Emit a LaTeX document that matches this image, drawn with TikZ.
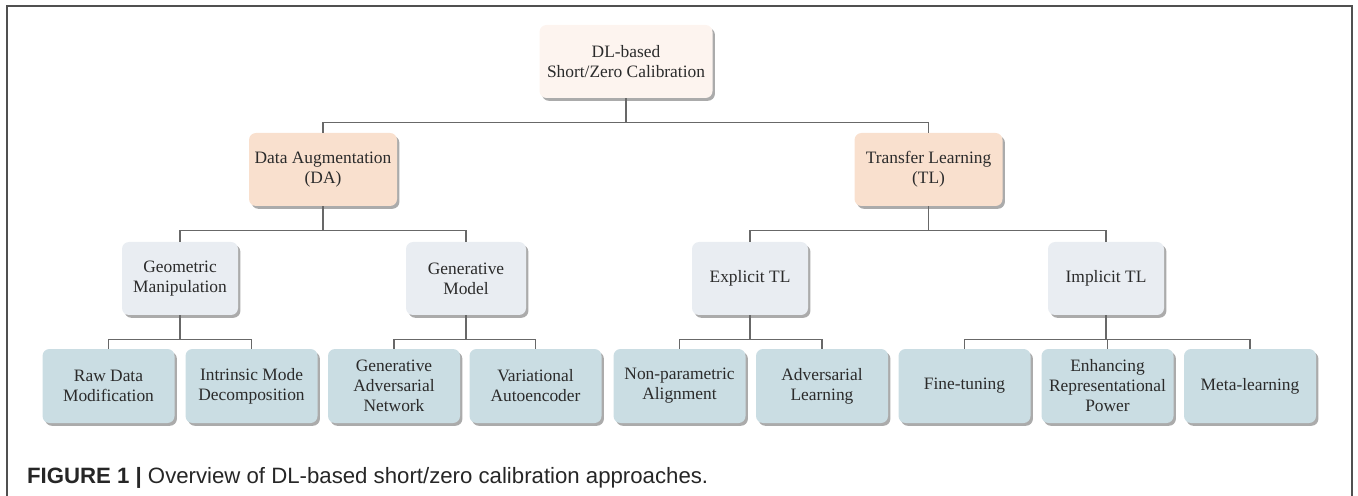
\documentclass[tikz,border=0pt]{standalone}
\usepackage{fontspec}
\setmainfont{Liberation Serif}
\newfontfamily\capfont{Liberation Sans}
\usepackage{xcolor}
\usepackage{tikz}
\usetikzlibrary{shadows}
\definecolor{rootfill}{HTML}{FDF4EF}
\definecolor{peachfill}{HTML}{F9E0CE}
\definecolor{midfill}{HTML}{E9EDF2}
\definecolor{leaffill}{HTML}{CADDE3}
\definecolor{linkgray}{HTML}{686868}
\definecolor{framegray}{HTML}{505050}
\definecolor{textgray}{HTML}{2B2B2B}
\tikzstyle{box} = [rounded corners=3.5pt, align=center, text=textgray, inner sep=2pt,
	font=\fontsize{8.7pt}{10pt}\selectfont, minimum height=36.5pt,
	drop shadow={shadow xshift=1.2pt, shadow yshift=-1.4pt, fill=black!55, opacity=0.6}]
\tikzstyle{rootbox} = [box, fill=rootfill, minimum width=86.5pt]
\tikzstyle{mainbox} = [box, fill=peachfill, minimum width=74pt]
\tikzstyle{subbox} = [box, fill=midfill, minimum width=58pt]
\tikzstyle{leafbox} = [box, fill=leaffill, minimum width=66pt, minimum height=37pt]
\tikzstyle{link} = [draw=linkgray, line width=0.6pt]

\begin{document}
\begin{tikzpicture}[x=0.5pt,y=-0.5pt]
	\useasboundingbox (0,0) rectangle (1358,496);
	% Frame:
	\draw[framegray, line width=1pt] (7,496) -- (7,6) -- (1352,6) -- (1352,496);

	% Top levels:
	\node[rootbox] (root) at (626,61.5) {DL-based\\Short/Zero Calibration};
	\node[mainbox] (da) at (323,169.5) {Data Augmentation\\(DA)};
	\node[mainbox] (tl) at (928.5,169.5) {Transfer Learning\\(TL)};

	\node[subbox] (geo) at (180,278.5) {Geometric\\Manipulation};
	\node[subbox, minimum width=60pt] (gen) at (466,278.5) {Generative\\Model};
	\node[subbox] (exp) at (750,278.5) {Explicit TL};
	\node[subbox] (imp) at (1106,278.5) {Implicit TL};

	% Leaves:
	\foreach \name/\xpos/\txt in {raw/108.5/{Raw Data\\Modification},
		imd/251.5/{Intrinsic Mode\\Decomposition}, gan/394/{Generative\\Adversarial\\Network},
		vae/535.5/{Variational\\Autoencoder}, npa/679.5/{Non-parametric\\Alignment},
		adv/822/{Adversarial\\Learning}, ft/964.5/{Fine-tuning},
		erp/1107.5/{Enhancing\\Representational\\Power}, meta/1250/{Meta-learning}}{%
		\node[leafbox] (\name) at (\xpos,386) {\txt};
	}

	% Connectors:
	\foreach \p/\c in {root/da,root/tl,da/geo,da/gen,tl/exp,tl/imp,geo/raw,geo/imd,gen/gan,
		gen/vae,exp/npa,exp/adv,imp/ft,imp/erp,imp/meta}{%
		\draw[link] (\p.south) -- ++(0,24) -| (\c.north);
	}

	% Caption:
	\node[anchor=base west, text=black!85, font=\capfont\fontsize{11.1pt}{13pt}\selectfont]
		(caption) at (20,483) {\textbf{FIGURE 1 |} Overview of DL-based short/zero calibration approaches.};
\end{tikzpicture}
\end{document}
